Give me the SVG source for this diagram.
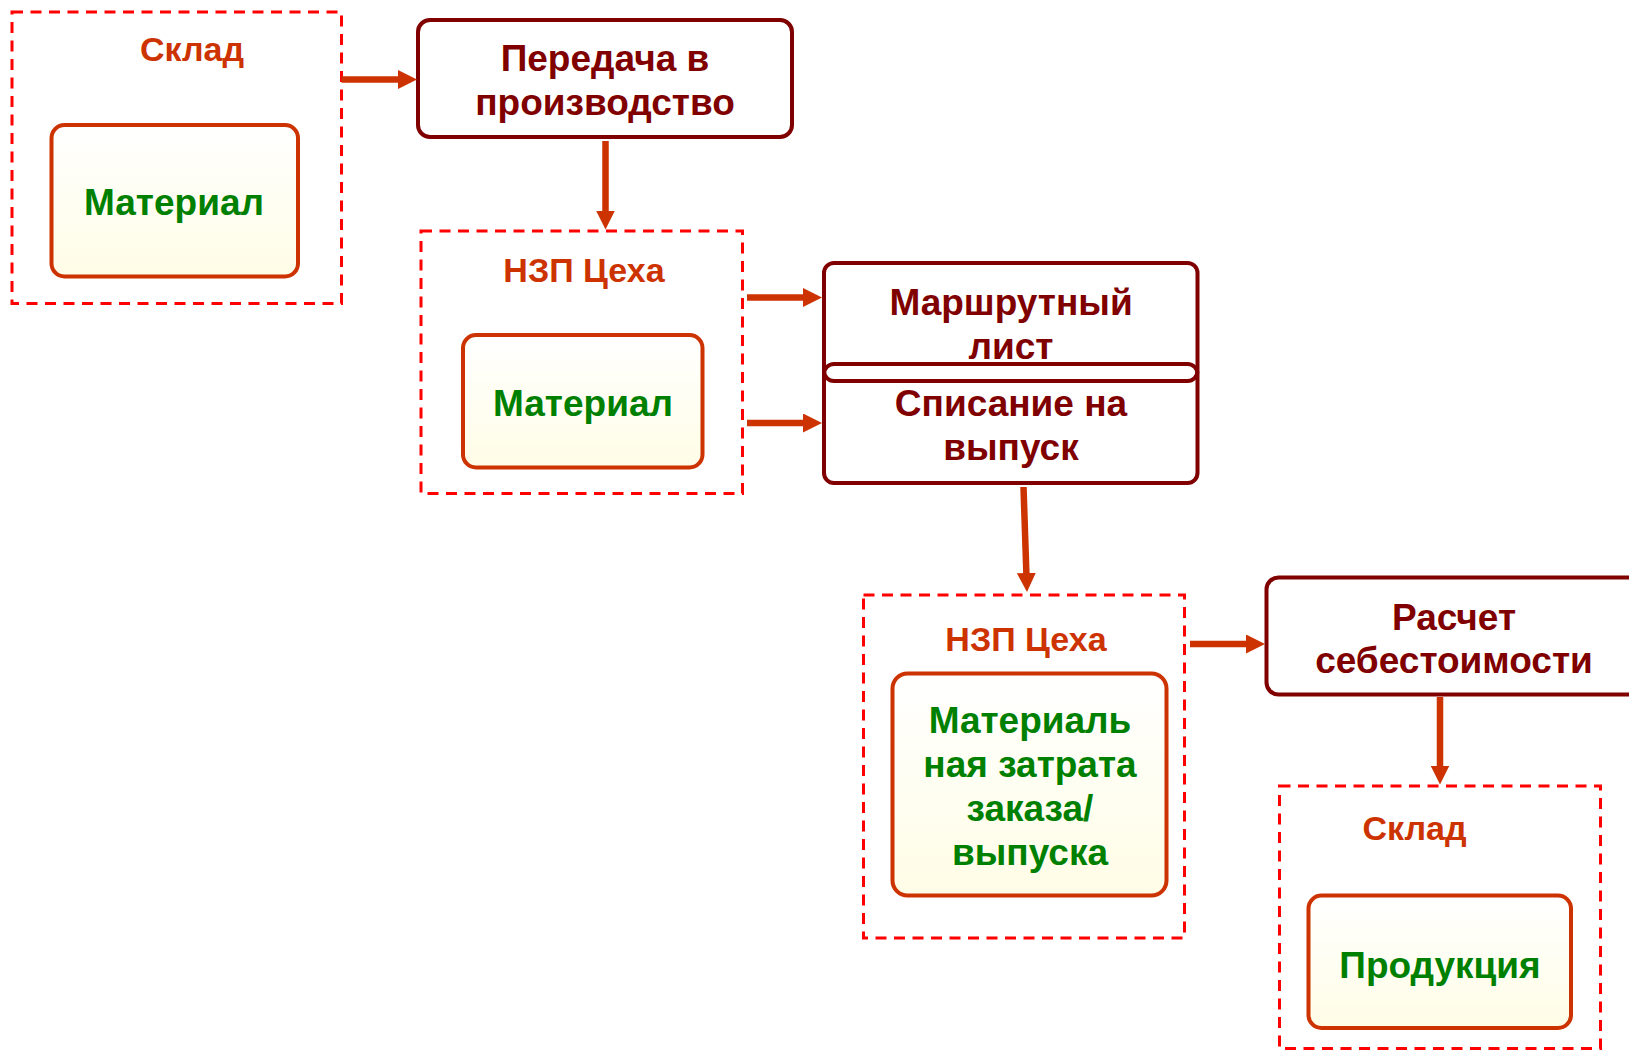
<svg xmlns="http://www.w3.org/2000/svg" width="1629" height="1050" viewBox="0 0 1629 1050">
<defs>
<linearGradient id="g" x1="0" y1="0" x2="0" y2="1">
<stop offset="0" stop-color="#FFFFFF"/>
<stop offset="1" stop-color="#FFFDE6"/>
</linearGradient>
<marker id="ah" viewBox="0 0 19 19" refX="1" refY="9.5" markerWidth="19" markerHeight="19" markerUnits="userSpaceOnUse" orient="auto">
<path d="M0,0 L19,9.5 L0,19 z" fill="#CC3300"/>
</marker>
<style>
.dash{fill:none;stroke:#FF0000;stroke-width:3;stroke-dasharray:11 7.5}
.inner{fill:url(#g);stroke:#CC3300;stroke-width:4}
.box{fill:#FFFFFF;stroke:#800000;stroke-width:4}
.open{fill:none;stroke:#800000;stroke-width:4}
.title{font-family:"Liberation Sans",Arial,sans-serif;font-weight:bold;font-size:34px;fill:#CC3300;text-anchor:middle}
.green{font-family:"Liberation Sans",Arial,sans-serif;font-weight:bold;font-size:37px;fill:#008000;text-anchor:middle}
.dark{font-family:"Liberation Sans",Arial,sans-serif;font-weight:bold;font-size:37px;fill:#800000;text-anchor:middle}
.conn{fill:none;stroke:#CC3300;stroke-width:6.5;marker-end:url(#ah)}
</style>
</defs>
<rect width="1629" height="1050" fill="#FFFFFF"/>

<g id="sklad1">
<rect class="dash" x="12" y="12" width="329.5" height="291.5"/>
<text class="title" x="192" y="61">Склад</text>
<rect class="inner" x="51.5" y="125" width="246.5" height="151.5" rx="13"/>
<text class="green" x="174" y="215">Материал</text>
</g>

<g id="peredacha">
<rect class="box" x="418" y="20" width="374" height="117" rx="12"/>
<text class="dark" x="605" y="71">Передача в</text>
<text class="dark" x="605" y="115">производство</text>
</g>

<g id="nzp1">
<rect class="dash" x="421" y="231" width="321.5" height="262.5"/>
<text class="title" x="584" y="282">НЗП Цеха</text>
<rect class="inner" x="463" y="335" width="239.5" height="132.5" rx="13"/>
<text class="green" x="583" y="416">Материал</text>
</g>

<g id="marshrut">
<rect class="box" x="824" y="364" width="373.5" height="119" rx="10"/>
<rect class="open" x="824" y="263" width="373.5" height="118" rx="10"/>
<text class="dark" x="1011" y="315">Маршрутный</text>
<text class="dark" x="1011" y="359">лист</text>
<text class="dark" x="1011" y="416">Списание на</text>
<text class="dark" x="1011" y="460">выпуск</text>
</g>

<g id="nzp2">
<rect class="dash" x="863.5" y="595" width="321" height="343"/>
<text class="title" x="1026" y="651">НЗП Цеха</text>
<rect class="inner" x="892.5" y="673.5" width="274" height="222" rx="15"/>
<text class="green" x="1030" y="733">Материаль</text>
<text class="green" x="1030" y="777">ная затрата</text>
<text class="green" x="1030" y="821">заказа/</text>
<text class="green" x="1030" y="865">выпуска</text>
</g>

<g id="raschet">
<rect class="box" x="1266.5" y="577.5" width="400" height="117" rx="12"/>
<text class="dark" x="1454" y="630">Расчет</text>
<text class="dark" x="1454" y="673">себестоимости</text>
</g>

<g id="sklad2">
<rect class="dash" x="1279.5" y="786" width="321" height="262.5"/>
<text class="title" x="1414.5" y="840">Склад</text>
<rect class="inner" x="1308.5" y="895.5" width="262.5" height="132.5" rx="13"/>
<text class="green" x="1440" y="978">Продукция</text>
</g>

<g id="connectors">
<path class="conn" d="M341.5,79.5 L399,79.5"/>
<path class="conn" d="M605.5,141 L605.5,211.5"/>
<path class="conn" d="M747,297.5 L804,297.5"/>
<path class="conn" d="M747,423 L804,423"/>
<path class="conn" d="M1023.5,487 L1026.4,574"/>
<path class="conn" d="M1190,644 L1247,644"/>
<path class="conn" d="M1440,697 L1440,766.5"/>
</g>
</svg>
